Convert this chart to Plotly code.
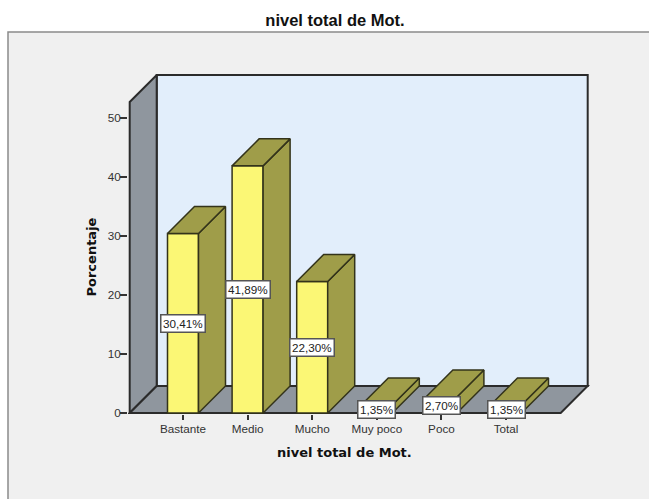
import plotly.graph_objects as go

categories = ["Bastante", "Medio", "Mucho", "Muy poco", "Poco", "Total"]
values = [30.41, 41.89, 22.30, 1.35, 2.70, 1.35]
labels = ["30,41%", "41,89%", "22,30%", "1,35%", "2,70%", "1,35%"]
y_ticks = [0, 10, 20, 30, 40, 50]

W, H = 649, 499
L, R, T, B = 128, 590, 74, 414
PX_X = 64.6
PX_Y = 5.9
X0_PX = 183
Y0_PX = 413

DX = 27 / PX_X
DY = 27 / PX_Y
BAR_W = 31 / PX_X
x_pos = list(range(len(categories)))

xr = [(L - X0_PX) / PX_X, (R - X0_PX) / PX_X]
yr = [(Y0_PX - B) / PX_Y, (Y0_PX - T) / PX_Y]

xl = (129.7 - X0_PX) / PX_X     # front-left corner
xf = (560.7 - X0_PX) / PX_X     # front-right corner
yt = (413 - 102) / PX_Y         # front top of side wall

DARK = "#2b2b2b"
WALL = "#8f969e"
BACK = "#e2eefb"
YEL = "#fbf775"
OLIVE = "#9f9d49"
EDGE = "#33331a"


def poly(pts, fill, layer="below", lw=2):
    path = "M " + " L ".join(f"{x},{y}" for x, y in pts) + " Z"
    return dict(type="path", path=path, xref="x", yref="y", fillcolor=fill,
                line=dict(color=DARK, width=lw), layer=layer)


shapes = [
    dict(type="rect", xref="paper", yref="paper",
         x0=(8 - L) / (R - L), x1=(670 - L) / (R - L),
         y0=(B - 520) / (B - T), y1=(B - 32) / (B - T),
         fillcolor="#f0f0f0", line=dict(color="#8a8a8a", width=1.5), layer="below"),
    poly([(xl + DX, DY), (xf + DX, DY), (xf + DX, yt + DY), (xl + DX, yt + DY)], BACK),
    poly([(xl, 0), (xl + DX, DY), (xl + DX, yt + DY), (xl, yt)], WALL),
    poly([(xl, 0), (xl + DX, DY), (xf + DX, DY), (xf, 0)], WALL),
]

fig = go.Figure()

fig.add_trace(go.Bar(x=x_pos, y=values, width=BAR_W, marker=dict(color=YEL, line=dict(color=EDGE, width=1.5)),
                     hoverinfo="skip", showlegend=False))

for x, v in zip(x_pos, values):
    a, b = x - BAR_W / 2, x + BAR_W / 2
    fig.add_trace(go.Scatter(x=[b, b + DX, b + DX, b, b], y=[0, DY, v + DY, v, 0], mode="lines",
                             fill="toself", fillcolor=OLIVE, line=dict(color=EDGE, width=1.5),
                             hoverinfo="skip", showlegend=False))
    fig.add_trace(go.Scatter(x=[a, a + DX, b + DX, b, a], y=[v, v + DY, v + DY, v, v], mode="lines",
                             fill="toself", fillcolor=OLIVE, line=dict(color=EDGE, width=1.5),
                             hoverinfo="skip", showlegend=False))

annotations = [
    dict(x=x, y=v / 2, xref="x", yref="y", text=t, showarrow=False, bgcolor="white",
         xanchor="center", yanchor="middle",
         bordercolor="#555555", borderwidth=1.5, borderpad=1.5,
         font=dict(family="Liberation Sans", size=11.7, color="#222222"))
    for x, v, t in zip(x_pos, values, labels)
]
annotations += [
    dict(x=(344.5 - L) / (R - L), y=(B - 452) / (B - T), xref="paper", yref="paper", text="<b>nivel total de Mot.</b>",
         xanchor="center", yanchor="middle",
         showarrow=False, font=dict(family="DejaVu Sans", size=13, color="#111111")),
    dict(x=(90.5 - L) / (R - L), y=(B - 257) / (B - T), xref="paper", yref="paper", text="<b>Porcentaje</b>",
         xanchor="center", yanchor="middle",
         textangle=-90, showarrow=False, font=dict(family="DejaVu Sans", size=13, color="#111111")),
]

fig.update_layout(
    width=W, height=H, autosize=False,
    margin=dict(l=L, r=W - R, t=T, b=H - B, pad=0),
    paper_bgcolor="white", plot_bgcolor="rgba(0,0,0,0)",
    title=dict(text="<b>nivel total de Mot.</b>", x=335 / W, xanchor="center", xref="container",
               y=1 - 20 / H, yanchor="middle", yref="container",
               font=dict(family="Liberation Sans", size=16.5, color="#111111")),
    shapes=shapes, annotations=annotations, showlegend=False,
    xaxis=dict(range=xr, tickvals=x_pos, ticktext=categories, showgrid=False, zeroline=False, showline=False,
               ticks="outside", ticklen=5, tickwidth=1.5, tickcolor="#333333", ticklabelstandoff=-1,
               tickfont=dict(family="Liberation Sans", size=11.7, color="#333333")),
    yaxis=dict(range=yr, tickvals=y_ticks, showgrid=False, zeroline=False, showline=False,
               ticks="outside", ticklen=7, tickwidth=1.5, tickcolor="#333333", ticklabelstandoff=-3,
               tickfont=dict(family="Liberation Sans", size=11.7, color="#333333")),
)

fig.write_html("out.html", config=dict(displayModeBar=False), post_script="document.body.style.margin='0';")
